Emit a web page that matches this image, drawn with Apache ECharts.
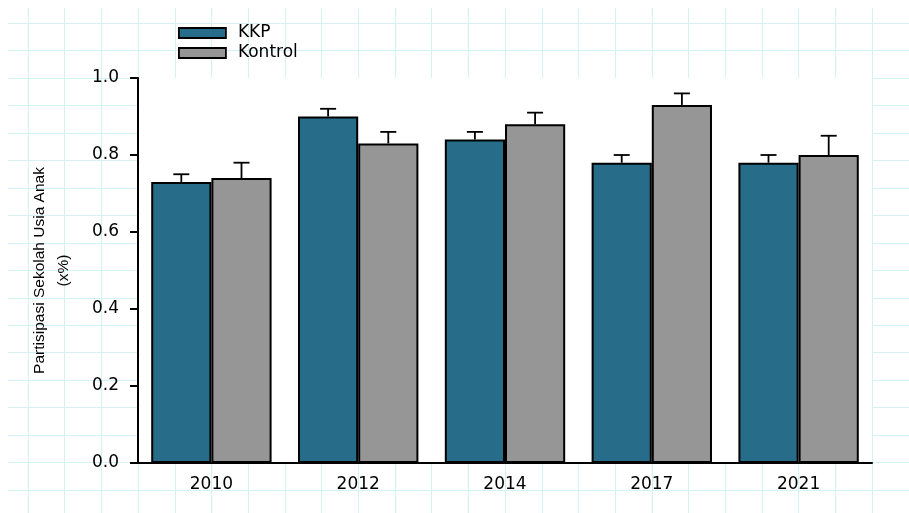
<!DOCTYPE html>
<html>
<head>
<meta charset="utf-8">
<script src="https://cdn.jsdelivr.net/npm/echarts@6/dist/echarts.min.js"></script>
<style>
html,body{margin:0;padding:0;background:#fff;}
#chart{width:909px;height:513px;}
</style>
</head>
<body>
<div id="chart"></div>
<script>
const categories = ['2010', '2012', '2014', '2017', '2021'];
const seriesNames = ['KKP', 'Kontrol'];
const kkpValues = [0.73, 0.90, 0.84, 0.78, 0.78];
const kkpErrors = [0.02, 0.02, 0.02, 0.02, 0.02];
const kontrolValues = [0.74, 0.83, 0.88, 0.93, 0.80];
const kontrolErrors = [0.04, 0.03, 0.03, 0.03, 0.05];
const yTicks = [0.0, 0.2, 0.4, 0.6, 0.8, 1.0];
const yAxisName = 'Partisipasi Sekolah Usia Anak\n(x%)';

const colors = ['#276d89', '#969696'];
const catGap = 0.18;
const paperLine = '#d4f1f4';
const numFont = 'DejaVu Sans';

function errorRenderer(side) {
  return function (params, api) {
    const i = api.value(0), v = api.value(1), e = api.value(2);
    const base = api.coord([i, v]);
    const top = api.coord([i, v + e]);
    const band = api.size([1, 0])[0];
    const bw = band * (1 - catGap) / 2;
    const x = base[0] + side * bw / 2;
    const style = { stroke: '#000', lineWidth: 1.8 };
    return {
      type: 'group',
      children: [
        { type: 'line', shape: { x1: x, y1: base[1], x2: x, y2: top[1] }, style: style },
        { type: 'line', shape: { x1: x - 8, y1: top[1], x2: x + 8, y2: top[1] }, style: style }
      ]
    };
  };
}

const chart = echarts.init(document.getElementById('chart'));
chart.setOption({
  animation: false,
  backgroundColor: '#fff',
  legend: {
    data: seriesNames,
    orient: 'vertical',
    left: 173,
    top: 18,
    itemWidth: 47,
    itemHeight: 10,
    itemGap: 0,
    icon: 'rect',
    textStyle: { fontFamily: numFont, fontSize: 17, color: '#000', lineHeight: 20, padding: [0, 0, 0, 7] },
    itemStyle: { borderColor: '#000', borderWidth: 1.8 }
  },
  grid: [
    { left: 138, right: 37, top: 78, bottom: 50, show: true, backgroundColor: '#fff', borderWidth: 0, z: 1 },
    { left: 28, right: 0.2, top: 8, bottom: 0, show: false },
    { left: 8, right: 0, top: 23.3, bottom: 23.05, show: false }
  ],
  xAxis: [
    {
      type: 'category', gridIndex: 0, data: categories, z: 6,
      axisLine: { lineStyle: { color: '#000', width: 2 } },
      axisTick: { alignWithLabel: true, length: 8, lineStyle: { color: '#000', width: 2 } },
      axisLabel: { fontFamily: numFont, fontSize: 17, color: '#000', margin: 13 },
      splitLine: { show: false }
    },
    {
      type: 'value', gridIndex: 1, min: 0, max: 24, interval: 1, z: 0,
      axisLine: { show: false }, axisTick: { show: false }, axisLabel: { show: false },
      splitLine: { show: true, lineStyle: { color: paperLine, width: 1 } }
    },
    {
      type: 'value', gridIndex: 2, min: 0, max: 1, show: false, z: 0,
      splitLine: { show: false }
    }
  ],
  yAxis: [
    {
      type: 'value', gridIndex: 0, min: 0, max: 1, interval: 0.2, z: 6,
      name: yAxisName, nameLocation: 'middle', nameGap: 62, nameRotate: 90,
      nameTextStyle: { fontFamily: 'Liberation Sans', fontSize: 15.5, color: '#000', lineHeight: 24, align: 'center' },
      axisLine: { show: true, lineStyle: { color: '#000', width: 2 } },
      axisTick: { show: true, length: 8, lineStyle: { color: '#000', width: 2 } },
      axisLabel: { fontFamily: numFont, fontSize: 17, color: '#000', margin: 19,
        formatter: function (v) { return v.toFixed(1); } },
      splitLine: { show: false }
    },
    {
      type: 'value', gridIndex: 1, min: 0, max: 1, show: false, z: 0,
      splitLine: { show: false }
    },
    {
      type: 'value', gridIndex: 2, min: 0, max: 17, interval: 1, z: 0,
      axisLine: { show: false }, axisTick: { show: false }, axisLabel: { show: false },
      splitLine: { show: true, lineStyle: { color: paperLine, width: 1 } }
    }
  ],
  series: [
    {
      name: seriesNames[0], type: 'bar', xAxisIndex: 0, yAxisIndex: 0, z: 3,
      data: kkpValues, barGap: '0%', barCategoryGap: (catGap * 100) + '%',
      itemStyle: { color: colors[0], borderColor: '#000', borderWidth: 2 }
    },
    {
      name: seriesNames[1], type: 'bar', xAxisIndex: 0, yAxisIndex: 0, z: 3,
      data: kontrolValues, barGap: '0%', barCategoryGap: (catGap * 100) + '%',
      itemStyle: { color: colors[1], borderColor: '#000', borderWidth: 2 }
    },
    {
      type: 'custom', xAxisIndex: 0, yAxisIndex: 0, z: 4,
      renderItem: errorRenderer(-1),
      data: kkpValues.map(function (v, i) { return [i, v, kkpErrors[i]]; })
    },
    {
      type: 'custom', xAxisIndex: 0, yAxisIndex: 0, z: 4,
      renderItem: errorRenderer(1),
      data: kontrolValues.map(function (v, i) { return [i, v, kontrolErrors[i]]; })
    }
  ]
});
</script>
</body>
</html>
